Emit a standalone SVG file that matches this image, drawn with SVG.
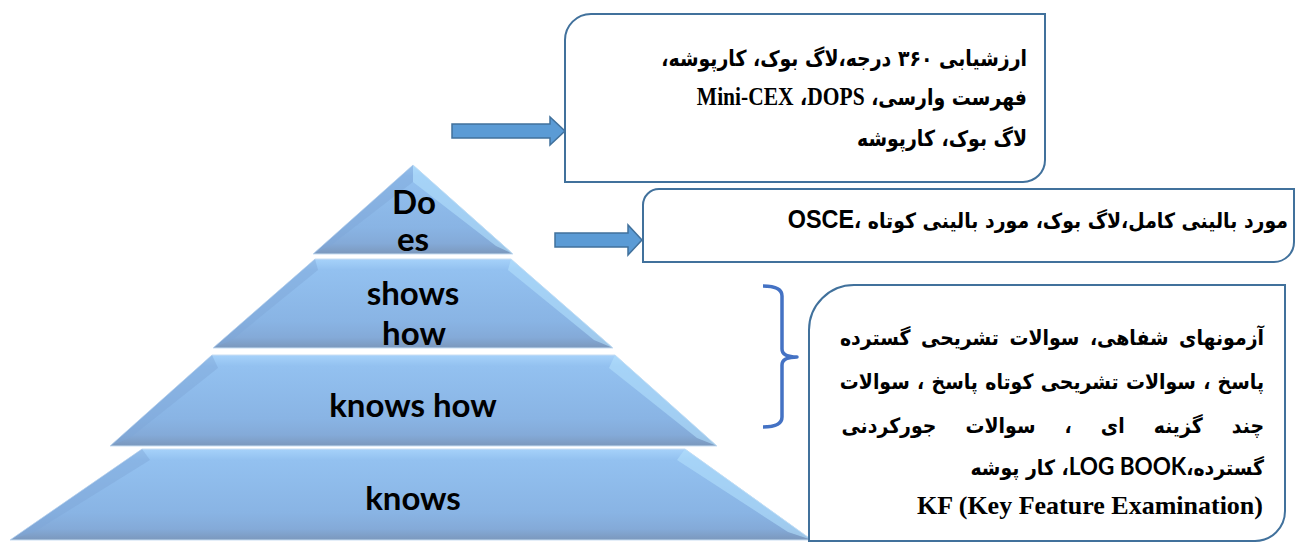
<svg xmlns="http://www.w3.org/2000/svg" width="1296" height="544" viewBox="0 0 1296 544">
<defs>
<linearGradient id="tier" x1="0" y1="0" x2="0" y2="1">
<stop offset="0" stop-color="#a6d2fa"/>
<stop offset="0.12" stop-color="#93c1f0"/>
<stop offset="0.7" stop-color="#89b4e4"/>
<stop offset="0.88" stop-color="#84aad8"/>
<stop offset="1" stop-color="#7b98bd"/>
</linearGradient>
<style>
.tier{fill:url(#tier);stroke:#c9def3;stroke-width:1}
.bevL{fill:#7ea6d6;opacity:.45}
.bevR{fill:#b2e0fb;opacity:.6}
.ptxt{font-family:Lato,"Open Sans",sans-serif;font-weight:bold;font-size:33px;fill:#000;text-anchor:middle}
.box{fill:#fff;stroke:#41719c;stroke-width:2}
.arrow{fill:#5b9bd5;stroke:#41719c;stroke-width:1.5}
.brace{fill:none;stroke:#4472c4;stroke-width:3.5;stroke-linejoin:round}
.ar{font-family:"DejaVu Sans",sans-serif;font-weight:bold;fill:#000}
.tm{font-family:"Liberation Serif","Times New Roman",serif;font-weight:bold}
.ls{font-family:"Liberation Sans",Arial,sans-serif;font-weight:bold}
.cb{font-family:Lato,"Liberation Sans",sans-serif;font-weight:bold}
</style>
</defs>

<g id="tier-does">
<polygon class="tier" points="413,165 513,254 313,254"/>
<polygon class="bevL" points="413,165 313,254 330,246 413,182"/>
<polygon class="bevR" points="413,165 513,254 496,246 413,182"/>
<text class="ptxt"><tspan x="414" y="214">Do</tspan><tspan x="413" y="251">es</tspan></text>
</g>

<g id="tier-shows-how">
<polygon class="tier" points="315,259 511,259 613,348 213,348"/>
<polygon class="bevL" points="315,259 213,348 232,340 318,270"/>
<polygon class="bevR" points="511,259 613,348 594,340 508,270"/>
<text class="ptxt"><tspan x="413" y="305">shows</tspan><tspan x="414" y="345">how</tspan></text>
</g>

<g id="tier-knows-how">
<polygon class="tier" points="212,355 615,355 717,446 110,446"/>
<polygon class="bevL" points="212,355 110,446 130,438 218,368"/>
<polygon class="bevR" points="615,355 717,446 697,438 609,368"/>
<text class="ptxt" x="413" y="417">knows how</text>
</g>

<g id="tier-knows">
<polygon class="tier" points="142,449 685,449 812,540 10,540"/>
<polygon class="bevL" points="142,449 10,540 34,532 150,460"/>
<polygon class="bevR" points="685,449 812,540 788,532 677,460"/>
<text class="ptxt" x="413" y="510">knows</text>
</g>

<g id="connectors">
<polygon class="arrow" points="452,124 550,124 550,117 565,131 550,145 550,138 452,138"/>
<polygon class="arrow" points="555,233 628,233 628,225 642,240 628,255 628,247 555,247"/>
<path class="brace" d="M763,286 Q782,286 782,296 L782,349 Q782,357 797,357 Q782,357 782,365 L782,417 Q782,427 763,427"/>
</g>

<g id="box-does">
<path class="box" d="M565,40 A26 26 0 0 1 591,14 L1045,14 L1045,160 A22 22 0 0 1 1023,182 L565,182 Z"/>
<text class="ar" font-size="22" transform="translate(1027,66) scale(0.86,1)" x="0" y="0" direction="rtl" text-anchor="start">ارزشیابی ۳۶۰ درجه،لاگ بوک، کارپوشه،</text>
<text class="ar" font-size="22" transform="translate(1027,105) scale(0.86,1)" x="0" y="0" direction="rtl" text-anchor="start">فهرست وارسی، <tspan class="tm" font-size="25">DOPS</tspan>،&#x200F; <tspan class="tm" font-size="25">Mini-CEX</tspan></text>
<text class="ar" font-size="22" transform="translate(1027,146) scale(0.86,1)" x="0" y="0" direction="rtl" text-anchor="start">لاگ بوک، کارپوشه</text>
</g>

<g id="box-shows-how">
<path class="box" d="M643,205 A16 16 0 0 1 659,189 L1294,189 L1294,242 A20 20 0 0 1 1274,262 L643,262 Z"/>
<text class="ar" font-size="21" transform="translate(1288,228) scale(0.9,1)" x="0" y="0" direction="rtl" text-anchor="start">مورد بالینی کامل،لاگ بوک، مورد بالینی کوتاه ،<tspan class="ls" font-size="26">OSCE</tspan></text>
</g>

<g id="box-knows">
<path class="box" d="M809,330 A45 45 0 0 1 854,285 L1285,285 L1285,511 A30 30 0 0 1 1255,541 L809,541 Z"/>
<g class="ar" font-size="21">
<text transform="translate(1264,345) scale(0.9,1)" x="0" y="0" direction="rtl" text-anchor="start" word-spacing="4.4">آزمونهای شفاهی، سوالات تشریحی گسترده</text>
<text transform="translate(1264,389) scale(0.9,1)" x="0" y="0" direction="rtl" text-anchor="start" word-spacing="0.8">پاسخ ، سوالات تشریحی کوتاه پاسخ ، سوالات</text>
<text transform="translate(1264,433) scale(0.9,1)" x="0" y="0" direction="rtl" text-anchor="start" word-spacing="25">چند گزینه ای ، سوالات جورکردنی</text>
<text transform="translate(1264,475) scale(0.9,1)" x="0" y="0" direction="rtl" text-anchor="start">گسترده،<tspan class="cb" font-size="25">LOG BOOK</tspan>، کار پوشه</text>
</g>
<text class="tm" font-size="26" x="1263" y="514" text-anchor="end">KF (Key Feature Examination)</text>
</g>
</svg>
